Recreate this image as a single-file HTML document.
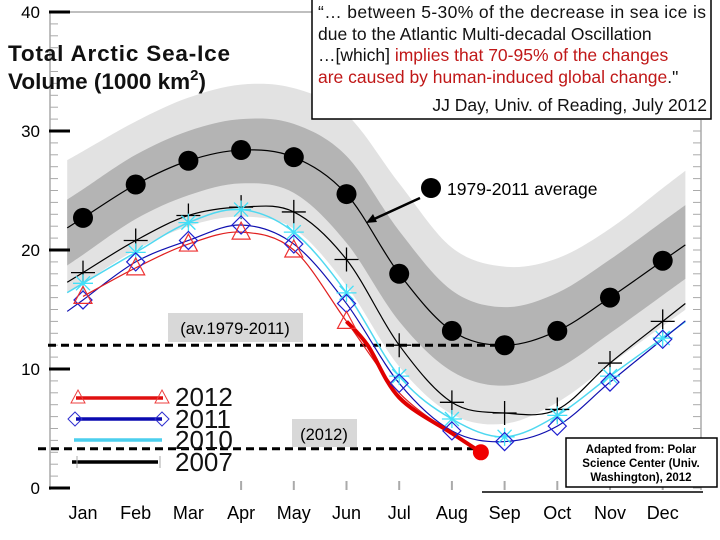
<!DOCTYPE html>
<html><head><meta charset="utf-8"><style>
body{margin:0;background:#fff;}
svg{display:block;font-family:"Liberation Sans",Arial,sans-serif;}
</style></head><body>
<svg id="chart" width="720" height="540" viewBox="0 0 720 540">
<g id="bands"></g>
<g id="axes"></g>
<g id="series"></g>
</svg>
<script>
const months=["Jan","Feb","Mar","Apr","May","Jun","Jul","Aug","Sep","Oct","Nov","Dec"];
const yTicks=[0,10,20,30,40];
const avg=[22.7,25.5,27.5,28.4,27.8,24.7,18.0,13.2,12.0,13.2,16.0,19.1];
const lightHi=[28.3,30.8,32.8,33.9,33.6,31.4,25.6,20.2,18.6,19.3,21.8,25.2];
const darkHi=[25.1,28.0,30.0,31.0,30.6,27.9,21.6,16.6,15.2,16.4,19.2,22.4];
const darkLo=[19.6,22.6,24.6,25.6,24.8,20.6,14.0,9.8,8.6,10.0,13.0,16.2];
const lightLo=[17.2,20.0,22.0,22.8,21.8,17.0,10.2,6.2,5.4,7.2,10.4,13.6];
const s2007=[18.1,20.8,22.9,23.6,23.2,19.2,12.0,7.2,6.3,6.6,10.5,14.0];
const s2010=[17.2,19.8,22.3,23.4,21.5,16.4,9.4,5.8,4.3,6.1,9.4,12.6];
const s2011=[15.8,19.0,20.8,22.1,20.5,15.5,8.8,4.8,3.9,5.2,8.9,12.5];
const s2012=[16.1,18.5,20.5,21.5,20.0,14.0];
const daily2012Pos=[5.0,5.4,6.0,7.0,7.55];
const daily2012Val=[14.0,12.0,7.6,4.6,3.0];
const avgRef=12.0, min2012=3.3;

const X=m=>83+m*52.7;
const Y=v=>488-v*11.9;
const NS="http://www.w3.org/2000/svg";
function mk(tag,attrs,parent){const e=document.createElementNS(NS,tag);for(const k in attrs)e.setAttribute(k,attrs[k]);parent.appendChild(e);return e;}
function curvePts(vals,ext){
  let p=vals.map((v,i)=>[X(i),Y(v)]);
  if(ext){const n=p.length;
    p.unshift([X(-0.3),Y(vals[0]-(vals[1]-vals[0])*0.3)]);
    p.push([X(n-1+0.43),Y(vals[n-1]+(vals[n-1]-vals[n-2])*0.43)]);}
  return p;}
function pathD(p){let d="M"+p[0][0]+","+p[0][1];
  for(let i=0;i<p.length-1;i++){const p0=p[Math.max(0,i-1)],p1=p[i],p2=p[i+1],p3=p[Math.min(p.length-1,i+2)];
    d+=" C"+(p1[0]+(p2[0]-p0[0])/6)+","+(p1[1]+(p2[1]-p0[1])/6)+" "+(p2[0]-(p3[0]-p1[0])/6)+","+(p2[1]-(p3[1]-p1[1])/6)+" "+p2[0]+","+p2[1];}
  return d;}
function band(hi,lo,fill,name,g){
  const a=curvePts(hi,true),b=curvePts(lo,true).reverse();
  let d=pathD(a)+" L"+b[0][0]+","+b[0][1]+pathD(b).replace(/^M[^ ]+/,"")+" Z";
  const e=mk("path",{d:d,fill:fill},g);
  
  }
const bg=document.getElementById("bands");
band(lightHi,lightLo,"#e2e2e2","light-band",bg);
band(darkHi,darkLo,"#b4b4b4","dark-band",bg);

const ax=document.getElementById("axes");
mk("line",{x1:50,y1:12,x2:50,y2:490,stroke:"#aaa","stroke-width":1.5},ax);
mk("line",{x1:50,y1:12,x2:312,y2:12,stroke:"#aaa","stroke-width":1.5},ax);
mk("line",{x1:701,y1:120,x2:701,y2:490,stroke:"#aaa","stroke-width":1.5},ax);
for(let v=0;v<=40;v++){mk("line",{x1:50,y1:Y(v),x2:58,y2:Y(v),stroke:"#aaa","stroke-width":1},ax);
  mk("line",{x1:693,y1:Y(v),x2:701,y2:Y(v),stroke:"#aaa","stroke-width":1},ax);}
yTicks.forEach(v=>{
  const t=mk("line",{x1:49,y1:Y(v),x2:70,y2:Y(v),stroke:"#000","stroke-width":3},ax);
  
  
  const l=mk("text",{x:40,y:Y(v)+6,"font-size":17,"text-anchor":"end"},ax);l.textContent=v;
  
  });
months.forEach((m,i)=>{
  if(i>=3)mk("line",{x1:X(i),y1:481,x2:X(i),y2:490,stroke:"#aaa","stroke-width":2},ax);
  const l=mk("text",{x:X(i),y:519,"font-size":18,"text-anchor":"middle"},ax);l.textContent=m;
  
  });
mk("line",{x1:482,y1:492,x2:703,y2:492,stroke:"#000","stroke-width":1.5},ax);

const sg=document.getElementById("series");
let dl=mk("line",{x1:48,y1:Y(avgRef),x2:X(8),y2:Y(avgRef),stroke:"#000","stroke-width":3,"stroke-dasharray":"8,5"},sg);

dl=mk("line",{x1:38,y1:Y(min2012),x2:481,y2:Y(min2012),stroke:"#000","stroke-width":3,"stroke-dasharray":"8,5"},sg);


function line(vals,color,w,name,ext){const e=mk("path",{d:pathD(curvePts(vals,ext)),fill:"none",stroke:color,"stroke-width":w},sg);
  }
line(avg,"#000",1.2,"average-line",true);
line(s2007,"#000",1.2,"line-2007",true);
line(s2010,"#4fd8f0",1.5,"line-2010",true);
line(s2011,"#1010b0",1.2,"line-2011",true);
line(s2012.concat([8.0,4.6]),"#e02020",1.2,"line-2012",false);
const dp=daily2012Pos.map((m,i)=>[X(m),Y(daily2012Val[i])]);
let tl=mk("path",{d:pathD(dp),fill:"none",stroke:"#e00000","stroke-width":4},sg);

let rd=mk("circle",{cx:X(daily2012Pos[4]),cy:Y(daily2012Val[4]),r:8,fill:"#f00000"},sg);


avg.forEach((v,i)=>{const c=mk("circle",{cx:X(i),cy:Y(v),r:10,fill:"#000"},sg);
  });
s2007.forEach((v,i)=>{const x=X(i),y=Y(v);const g=mk("path",{d:`M${x-12},${y}H${x+12}M${x},${y-12}V${y+12}`,stroke:"#000","stroke-width":1.3},sg);
  });
s2010.forEach((v,i)=>{const x=X(i),y=Y(v);const g=mk("path",{d:`M${x-10},${y}H${x+10}M${x-7},${y-7}L${x+7},${y+7}M${x-7},${y+7}L${x+7},${y-7}M${x},${y-9}V${y+9}`,stroke:"#40e0f8","stroke-width":1.3},sg);
  });
s2011.forEach((v,i)=>{const x=X(i),y=Y(v);const g=mk("path",{d:`M${x},${y-9}L${x+9},${y}L${x},${y+9}L${x-9},${y}Z`,fill:"none",stroke:"#2020d0","stroke-width":1.2},sg);
  });
s2012.forEach((v,i)=>{const x=X(i),y=Y(v);const g=mk("path",{d:`M${x},${y-10}L${x+9},${y+7}L${x-9},${y+7}Z`,fill:"none",stroke:"#ee3030","stroke-width":1.2},sg);
  });
</script>
<svg width="720" height="540" style="position:absolute;left:0;top:0">
<text x="8" y="61" font-size="22.5" font-weight="bold" fill="#111" textLength="222">Total Arctic Sea-Ice</text>
<text x="8" y="89" font-size="22.5" font-weight="bold" fill="#111">Volume (1000 km<tspan font-size="15" dy="-9">2</tspan><tspan dy="9">)</tspan></text>
<rect x="312" y="-2" width="399" height="121" fill="#fff" stroke="#000" stroke-width="1.5"/>
<g font-size="17.5" fill="#111">
<text x="318" y="18" textLength="388">“… between 5-30% of the decrease in sea ice is</text>
<text x="318" y="40">due to the Atlantic Multi-decadal Oscillation</text>
<text x="318" y="61">…[which] <tspan fill="#c01818">implies that 70-95% of the changes</tspan></text>
<text x="318" y="83"><tspan fill="#c01818">are caused by human-induced global change</tspan>."</text>
<text x="707" y="111" text-anchor="end">JJ Day, Univ. of Reading, July 2012</text>
</g>
<circle cx="431" cy="188" r="10" fill="#000"/>
<text x="447" y="195" font-size="17.5">1979-2011 average</text>
<line x1="420" y1="198" x2="372" y2="220" stroke="#000" stroke-width="2.5"/>
<path d="M366,223 L373,214 L377,222 Z" fill="#000"/>
<rect x="168" y="313" width="135" height="29" fill="#d8d8d8"/>
<text x="235" y="334" font-size="16.5" text-anchor="middle">(av.1979-2011)</text>
<rect x="292" y="419" width="65" height="28" fill="#d8d8d8"/>
<text x="324" y="440" font-size="16.5" text-anchor="middle">(2012)</text>
<g>
<line x1="76" y1="398" x2="163" y2="398" stroke="#e01010" stroke-width="3.5"/>
<path d="M78,390 L85,403 L71,403 Z M162,390 L169,403 L155,403 Z" fill="none" stroke="#ee4040"/>
<line x1="76" y1="419" x2="162" y2="419" stroke="#0a0ab0" stroke-width="3.5"/>
<path d="M75,412 L82,419 L75,426 L68,419 Z M162,412 L169,419 L162,426 L155,419 Z" fill="none" stroke="#3030d0"/>
<line x1="74" y1="440" x2="162" y2="440" stroke="#4ccfee" stroke-width="3.5"/>
<line x1="72" y1="462" x2="158" y2="462" stroke="#000" stroke-width="3.5"/>
<line x1="77" y1="456" x2="77" y2="468" stroke="#aaa"/><line x1="160" y1="456" x2="160" y2="468" stroke="#aaa"/>
<g font-size="26" fill="#111"><text x="175" y="406">2012</text>
<text x="175" y="428">2011</text>
<text x="175" y="449">2010</text>
<text x="175" y="471">2007</text></g>
</g>
<rect x="566" y="438" width="151" height="49" fill="#fff" stroke="#000" stroke-width="1.5"/>
<g font-size="11.5" font-weight="bold" text-anchor="middle">
<text x="641" y="453">Adapted from: Polar</text>
<text x="641" y="467">Science Center (Univ.</text>
<text x="641" y="481">Washington), 2012</text></g>
</svg>
</body></html>
